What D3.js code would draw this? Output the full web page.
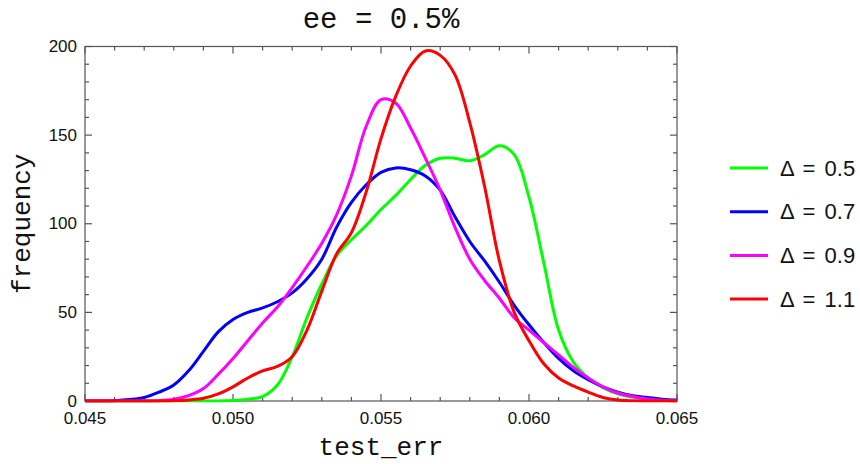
<!DOCTYPE html>
<html>
<head>
<meta charset="utf-8">
<script src="https://cdn.jsdelivr.net/npm/d3@7"></script>
<style>
  html, body { margin: 0; padding: 0; background: #fff; }
  svg { display: block; }
  .mono { font-family: "Liberation Mono", "DejaVu Sans Mono", monospace; fill: #111; }
  .tick-label { font-family: "Liberation Sans", Arial, sans-serif; font-size: 17px; fill: #111; }
</style>
</head>
<body>
<div id="chart"></div>
<script>
// test_err grid (step 0.0005)
const testErr = [0.045, 0.0455, 0.046, 0.0465, 0.047, 0.0475, 0.048, 0.0485, 0.049, 0.0495,
    0.050, 0.0505, 0.051, 0.0515, 0.052, 0.0525, 0.053, 0.0535, 0.054, 0.0545,
    0.055, 0.0555, 0.056, 0.0565, 0.057, 0.0575, 0.058, 0.0585, 0.059, 0.0595,
    0.060, 0.0605, 0.061, 0.0615, 0.062, 0.0625, 0.063, 0.0635, 0.064, 0.0645, 0.065];

const freqD05 = [0, 0, 0, 0, 0, 0, 0, 0, 0, 0,
    0.3, 1, 2.5, 9, 25, 47, 66, 82, 91, 99,
    108, 116, 125, 133, 137, 137, 135.5, 139, 144, 139,
    115, 78, 40, 22, 13, 7.5, 4, 2.2, 1, 0.3, 0];

const freqD07 = [0, 0, 0.2, 0.8, 2, 5, 9, 17, 28, 39,
    46, 50, 52.5, 56, 61, 69, 80, 98, 112, 122,
    129, 131.5, 130.5, 127, 119, 104, 90, 79, 67, 54,
    43, 33, 24, 17, 12, 8, 5, 3, 2, 1, 0.5];

const freqD09 = [0, 0, 0, 0, 0, 0.2, 1, 3, 7, 15,
    24, 34, 44, 53, 64, 76, 89, 105, 127, 155,
    170, 168, 154, 137, 119, 98, 80, 68, 58, 47,
    40, 33, 26, 19, 13, 8, 4.5, 2.5, 1.2, 0.4, 0];

const freqD11 = [0, 0, 0, 0, 0, 0, 0.2, 0.6, 1.5, 4,
    8, 13, 17, 19.5, 25, 40, 62, 83, 95, 118,
    148, 172, 189, 197.5, 195, 184, 157, 121, 79, 50,
    34, 21, 13, 8.5, 5, 2, 0.5, 0.1, 0, 0, 0];

const seriesNames = ["Δ = 0.5", "Δ = 0.7", "Δ = 0.9", "Δ = 1.1"];
const seriesColors = ["#00ff00", "#0000ff", "#ff00ff", "#ff0000"];
const seriesValues = [freqD05, freqD07, freqD09, freqD11];

const xTicks = [0.045, 0.050, 0.055, 0.060, 0.065];
const yTicks = [0, 50, 100, 150, 200];

const width = 860, height = 464;
const margin = { left: 85, right: 183, top: 46.5, bottom: 63 };

const svg = d3.select("#chart").append("svg")
    .attr("width", width)
    .attr("height", height);

const x = d3.scaleLinear().domain([0.045, 0.065]).range([margin.left, width - margin.right]);
const y = d3.scaleLinear().domain([0, 200]).range([height - margin.bottom, margin.top]);

svg.append("clipPath").attr("id", "plot-clip")
    .append("rect")
    .attr("x", x(0.045) - 2).attr("y", y(200))
    .attr("width", x(0.065) - x(0.045) + 4).attr("height", y(0) - y(200) + 1.6);

// frame with inward ticks on all sides
const xMinor = d3.range(0, 21).map(i => 0.045 + i * 0.001);
const yMinor = d3.range(0, 21).map(i => i * 10);

const frame = svg.append("g").attr("stroke", "#555").attr("stroke-width", 1.2);
frame.append("rect")
    .attr("x", x(0.045)).attr("y", y(200))
    .attr("width", x(0.065) - x(0.045)).attr("height", y(0) - y(200))
    .attr("fill", "none");

xMinor.forEach((v, i) => {
    const len = i % 5 === 0 ? 7 : 4;
    frame.append("line").attr("x1", x(v)).attr("x2", x(v)).attr("y1", y(0)).attr("y2", y(0) - len);
    frame.append("line").attr("x1", x(v)).attr("x2", x(v)).attr("y1", y(200)).attr("y2", y(200) + len);
});
yMinor.forEach((v, i) => {
    const len = i % 5 === 0 ? 7 : 4;
    frame.append("line").attr("y1", y(v)).attr("y2", y(v)).attr("x1", x(0.045)).attr("x2", x(0.045) + len);
    frame.append("line").attr("y1", y(v)).attr("y2", y(v)).attr("x1", x(0.065)).attr("x2", x(0.065) - len);
});

// tick labels
svg.append("g").selectAll("text")
    .data(xTicks)
    .join("text")
    .attr("class", "tick-label")
    .attr("x", d => x(d))
    .attr("y", y(0) + 23)
    .attr("text-anchor", "middle")
    .text(d => d3.format(".3f")(d));

svg.append("g").selectAll("text")
    .data(yTicks)
    .join("text")
    .attr("class", "tick-label")
    .attr("x", x(0.045) - 8)
    .attr("y", d => y(d))
    .attr("dy", "0.33em")
    .attr("text-anchor", "end")
    .text(d => d);

// curves
const line = d3.line()
    .x((d, i) => x(testErr[i]))
    .y(d => y(d))
    .curve(d3.curveCatmullRom.alpha(0.5));

svg.append("g").attr("clip-path", "url(#plot-clip)")
    .selectAll("path")
    .data(seriesValues)
    .join("path")
    .attr("d", d => line(d))
    .attr("fill", "none")
    .attr("stroke", (d, i) => seriesColors[i])
    .attr("stroke-width", 3);

// titles
svg.append("text")
    .attr("class", "mono")
    .attr("x", (x(0.045) + x(0.065)) / 2)
    .attr("y", 28)
    .attr("text-anchor", "middle")
    .attr("font-size", 29)
    .text("ee = 0.5%");

svg.append("text")
    .attr("class", "mono")
    .attr("x", (x(0.045) + x(0.065)) / 2)
    .attr("y", 455)
    .attr("text-anchor", "middle")
    .attr("font-size", 26)
    .text("test_err");

svg.append("text")
    .attr("class", "mono")
    .attr("transform", `translate(30,${(y(0) + y(200)) / 2}) rotate(-90)`)
    .attr("text-anchor", "middle")
    .attr("font-size", 26)
    .text("frequency");

// legend
const legend = svg.append("g").selectAll("g")
    .data(seriesNames)
    .join("g")
    .attr("transform", (d, i) => `translate(730,${168 + i * 43.7})`);

legend.append("line")
    .attr("x1", 0).attr("x2", 38)
    .attr("stroke", (d, i) => seriesColors[i])
    .attr("stroke-width", 3);

legend.append("text")
    .attr("x", 50)
    .attr("dy", "0.35em")
    .attr("font-family", "'Liberation Sans', Arial, sans-serif")
    .attr("font-size", 22)
    .attr("word-spacing", 3)
    .attr("fill", "#111")
    .text(d => d);
</script>
</body>
</html>
